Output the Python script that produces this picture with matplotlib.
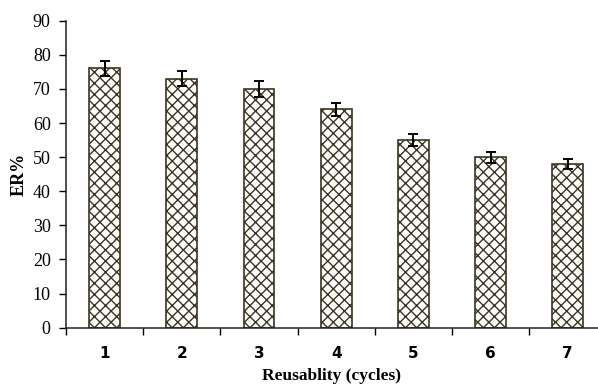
import matplotlib
matplotlib.use("Agg")
import matplotlib.pyplot as plt
import numpy as np

cycles = ["1", "2", "3", "4", "5", "6", "7"]
er_values = [76, 73, 70, 64, 55, 50, 48]
er_errors = [2.2, 2.2, 2.3, 2.0, 1.8, 1.6, 1.6]
y_ticks = [0, 10, 20, 30, 40, 50, 60, 70, 80, 90]

plt.rcParams['hatch.color'] = '#6a624e'
plt.rcParams['hatch.linewidth'] = 1.0

fig = plt.figure(figsize=(5.98, 3.89), dpi=100)
ax = fig.add_axes([66/598, 1 - 327.7/389, (598-66)/598, (327.7-20.7)/389])

x = np.arange(1, len(cycles) + 1)
ax.bar(x, er_values, width=0.40, color='white', edgecolor='#3b3420',
       linewidth=1.2, hatch='xxx', zorder=2)
ax.errorbar(x, er_values, yerr=er_errors, fmt='none', ecolor='black',
            elinewidth=1.4, capsize=3.5, capthick=1.4, zorder=3)

ax.set_xlim(0.5, 0.5 + (598-66)/77.2)
ax.set_ylim(0, 90)
ax.set_yticks(y_ticks)
ax.set_yticklabels([str(t) for t in y_ticks], family='Liberation Serif', fontsize=13)

ax.set_xticks(x)
ax.set_xticklabels(cycles, family='DejaVu Sans', fontweight='bold', fontsize=11)
ax.set_xticks(np.arange(0.5, 7.0, 1.0), minor=True)
ax.tick_params(axis='x', which='major', length=0, pad=13)
ax.tick_params(axis='x', which='minor', length=5, width=1.0, direction='out')
ax.tick_params(axis='y', length=5, width=1.0, direction='out', pad=6)

for s in ['top', 'right']:
    ax.spines[s].set_visible(False)
for s in ['left', 'bottom']:
    ax.spines[s].set_linewidth(1.1)
    ax.spines[s].set_color('#222222')

ax.set_xlabel('Reusablity (cycles)', family='Liberation Serif', fontweight='bold',
              fontsize=12.5, labelpad=5)
ax.set_ylabel('ER%', family='Liberation Serif', fontweight='bold', fontsize=13,
              labelpad=4)

fig.savefig('out.png', dpi=100)
